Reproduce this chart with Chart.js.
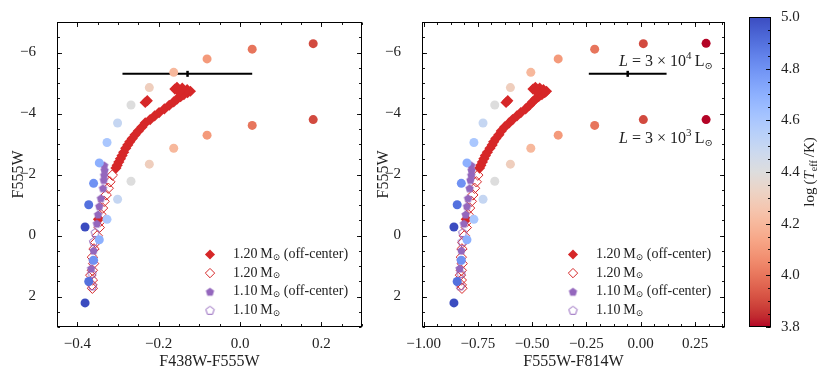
<!DOCTYPE html>
<html>
<head>
<meta charset="utf-8">
<script src="https://cdn.jsdelivr.net/npm/chart.js@4.4.1/dist/chart.umd.min.js"></script>
<style>
  body { margin: 0; background: #fff; }
  #wrap { position: relative; width: 831px; height: 380px; }
  .box { position: absolute; top: 0; }
</style>
</head>
<body>
<div id="wrap">
  <div class="box" style="left:0"><canvas id="left" width="370" height="380" style="width:370px;height:380px"></canvas></div>
  <div class="box" style="left:370px"><canvas id="right" width="365" height="380" style="width:365px;height:380px"></canvas></div>
  <div class="box" style="left:735px"><canvas id="cbar" width="96" height="380" style="width:96px;height:380px"></canvas></div>
</div>
<script>
// constant-luminosity grid, one point per log Teff
const logTeff = [3.8, 3.9, 4.0, 4.1, 4.2, 4.3, 4.4, 4.5, 4.6, 4.7, 4.8, 4.9, 5.0];
const gridBV = [null, 0.180, 0.030, -0.081, -0.163, -0.223, -0.268, -0.301, -0.327, -0.346, -0.360, -0.372, -0.381];
const gridVI = [0.301, 0.012, -0.212, -0.380, -0.506, -0.600, -0.672, -0.726, -0.768, -0.800, -0.826, -0.845, -0.860];
const gridMag4 = [-6.30, -6.29, -6.11, -5.79, -5.35, -4.85, -4.28, -3.69, -3.05, -2.38, -1.71, -1.01, -0.28]; // L = 3e4
const gridMag3 = [-3.80, -3.80, -3.61, -3.29, -2.86, -2.34, -1.78, -1.19, -0.53, 0.14, 0.81, 1.51, 2.21]; // L = 3e3

// 1.20 Msun, off-center
const off120Mag = [-0.53, -2.21, -2.30, -2.41, -2.52, -2.62, -2.73, -2.86, -2.97, -3.07, -3.18, -3.30, -3.43, -3.56, -3.69, -3.80, -3.92, -4.03, -4.15, -4.27, -4.38, -4.47, -4.55, -4.62, -4.68, -4.73, -4.78, -4.83, -4.86, -4.80, -4.72, -4.42, -4.36];
const off120BV = [-0.348, -0.305, -0.302, -0.298, -0.294, -0.290, -0.286, -0.281, -0.276, -0.271, -0.265, -0.258, -0.250, -0.241, -0.233, -0.221, -0.210, -0.199, -0.186, -0.174, -0.163, -0.155, -0.146, -0.138, -0.129, -0.122, -0.130, -0.142, -0.155, -0.160, -0.150, -0.228, -0.233];
const off120VI = [-0.803, -0.742, -0.736, -0.729, -0.722, -0.715, -0.706, -0.694, -0.684, -0.677, -0.667, -0.653, -0.642, -0.626, -0.606, -0.590, -0.570, -0.552, -0.530, -0.512, -0.498, -0.485, -0.470, -0.455, -0.442, -0.434, -0.448, -0.465, -0.485, -0.496, -0.480, -0.612, -0.620];

// 1.20 Msun
const m120Mag = [-1.98, -1.76, -1.55, -1.33, -1.12, -0.90, -0.69, -0.47, -0.26, 0.01, 0.23, 0.44, 0.71, 0.92, 1.14, 1.30, 1.46, 1.62, 1.73];
const m120BV = [-0.314, -0.320, -0.324, -0.329, -0.334, -0.338, -0.342, -0.343, -0.346, -0.351, -0.355, -0.359, -0.363, -0.360, -0.363, -0.367, -0.363, -0.364, -0.363];
const m120VI = [-0.750, -0.757, -0.765, -0.773, -0.780, -0.788, -0.795, -0.798, -0.803, -0.812, -0.819, -0.823, -0.826, -0.822, -0.826, -0.830, -0.826, -0.826, -0.823];

// 1.10 Msun, off-center
const off110Mag = [-2.30, -2.14, -1.98, -1.82, -1.55, -1.22, -0.96, -0.69, -0.39, 0.49, 0.81, 1.08];
const off110BV = [-0.334, -0.333, -0.334, -0.335, -0.337, -0.342, -0.346, -0.349, -0.352, -0.360, -0.363, -0.366];
const off110VI = [-0.780, -0.779, -0.780, -0.784, -0.788, -0.795, -0.800, -0.806, -0.814, -0.826, -0.830, -0.834];

// 1.10 Msun
const m110Mag = [-0.10, 0.20, 1.24, 1.65];
const m110BV = [-0.356, -0.360, -0.364, -0.363];
const m110VI = [-0.819, -0.822, -0.828, -0.831];

// error bars (F438W-F555W, F555W-F814W)
const errMid = [-0.129, -0.060];
const errLo = [-0.289, -0.239];
const errHi = [0.030, 0.119];
const errMag = -5.30;

// luminosity labels (right panel)
const noteExp = ['4', '3'];
const noteMag = [-5.56, -3.02];
const noteX = 0.332;

const magTicks = [-6, -4, -2, 0, 2];
const bvTicks = [-0.4, -0.2, 0.0, 0.2];
const viTicks = [-1.0, -0.75, -0.5, -0.25, 0.0, 0.25];
const teffTicks = [3.8, 4.0, 4.2, 4.4, 4.6, 4.8, 5.0];

const legendMass = ['1.20', '1.20', '1.10', '1.10'];
const legendNote = [' (off-center)', '', ' (off-center)', ''];

const RED = '#d62728';
const PURPLE = '#9467bd';
const SERIF = '"Liberation Serif", "DejaVu Serif", serif';
const SUN = '"DejaVu Serif", "DejaVu Sans", serif';

Chart.defaults.font.family = SERIF;
Chart.defaults.color = '#222';

// matplotlib coolwarm, reversed so that cool stars are red
const coolwarm = [[59,76,192],[68,90,204],[77,104,215],[87,117,225],[98,130,234],[108,142,241],[119,154,247],[130,165,251],[141,176,254],[152,185,255],[163,194,255],[174,201,253],[184,208,249],[194,213,244],[204,217,238],[213,219,230],[221,221,221],[229,216,209],[236,211,197],[241,204,185],[245,196,173],[247,187,160],[247,177,148],[247,166,135],[244,154,123],[241,141,111],[236,127,99],[229,112,88],[222,96,77],[213,80,66],[203,62,56],[192,40,47],[180,4,38]];
function cmap(t) {
  t = Math.min(1, Math.max(0, t));
  const f = t * 32, i = Math.min(31, Math.floor(f)), r = f - i;
  const a = coolwarm[i], b = coolwarm[i + 1];
  return 'rgb(' + a.map((c, k) => Math.round(c + (b[k] - c) * r)).join(',') + ')';
}
const tMin = teffTicks[0], tMax = teffTicks[teffTicks.length - 1];
const teffColor = v => cmap(1 - (v - tMin) / (tMax - tMin));

function pentagon(fill) {
  const c = document.createElement('canvas');
  c.width = c.height = 11;
  const g = c.getContext('2d');
  g.beginPath();
  for (let k = 0; k < 5; k++) {
    const a = -Math.PI / 2 + k * 2 * Math.PI / 5;
    const px = 5.5 + 4.4 * Math.cos(a), py = 5.9 + 4.4 * Math.sin(a);
    if (k) g.lineTo(px, py); else g.moveTo(px, py);
  }
  g.closePath();
  if (fill) { g.fillStyle = PURPLE; g.fill(); }
  else { g.strokeStyle = PURPLE; g.lineWidth = 1; g.stroke(); }
  return c;
}
const pentFull = pentagon(true);
const pentOpen = pentagon(false);

// marker styles for the four tracks (legend order)
const trackStyle = [
  { pointStyle: 'rectRot', radius: 5.6, fill: RED, border: RED, bw: 0 },
  { pointStyle: 'rectRot', radius: 5.2, fill: 'rgba(0,0,0,0)', border: RED, bw: 1 },
  { pointStyle: pentFull, radius: 4, fill: PURPLE, border: PURPLE, bw: 0 },
  { pointStyle: pentOpen, radius: 4, fill: 'rgba(0,0,0,0)', border: PURPLE, bw: 0 }
];

const fmt = d => v => Number(v).toFixed(d).replace('-', '\u2212');

function richText(ctx, parts, x, y, align) {
  let w = 0;
  parts.forEach(p => { ctx.font = p[1]; w += ctx.measureText(p[0]).width; });
  let cx = align === 'right' ? x - w : align === 'center' ? x - w / 2 : x;
  parts.forEach(p => {
    ctx.font = p[1];
    ctx.fillText(p[0], cx, y + (p[2] || 0));
    cx += ctx.measureText(p[0]).width;
  });
}

// axes box with inward major/minor ticks
const framePlugin = {
  id: 'frame',
  afterDatasetsDraw(chart, args, o) {
    const { ctx, chartArea: a, scales } = chart;
    const L = Math.round(a.left) + 0.5, R = Math.round(a.right) - 0.5;
    const T = Math.round(a.top) + 0.5, B = Math.round(a.bottom) - 0.5;
    ctx.save();
    ctx.strokeStyle = '#000';
    ctx.lineWidth = 1;
    ctx.strokeRect(L, T, R - L, B - T);
    ctx.lineWidth = 0.9;
    ctx.beginPath();
    ['x', 'y'].forEach(axis => {
      const s = scales[axis], c = o[axis];
      if (!s || !c) return;
      const marks = [];
      for (let k = Math.ceil(s.min / c.minor - 1e-6); k * c.minor <= s.max + 1e-6; k++) marks.push([k * c.minor, 2.5]);
      s.ticks.forEach(t => marks.push([t.value, 4.5]));
      marks.forEach(([v, len]) => {
        const p = Math.round(s.getPixelForValue(v)) + 0.5;
        c.sides.forEach(side => {
          if (side === 'bottom') { ctx.moveTo(p, B); ctx.lineTo(p, B - len); }
          if (side === 'top') { ctx.moveTo(p, T); ctx.lineTo(p, T + len); }
          if (side === 'left') { ctx.moveTo(L, p); ctx.lineTo(L + len, p); }
          if (side === 'right') { ctx.moveTo(R, p); ctx.lineTo(R - len, p); }
        });
      });
    });
    ctx.stroke();
    ctx.restore();
  }
};

// legend in the lower right corner
const keyPlugin = {
  id: 'key',
  afterDraw(chart) {
    const { ctx, chartArea: a } = chart;
    ctx.save();
    ctx.textBaseline = 'middle';
    legendMass.forEach((m, i) => {
      const y = a.bottom - 72.5 + i * 18.6;
      const st = trackStyle[i];
      ctx.fillStyle = st.fill;
      ctx.strokeStyle = st.border;
      ctx.lineWidth = st.bw;
      Chart.helpers.drawPoint(ctx, { pointStyle: st.pointStyle, radius: st.radius * 0.9, rotation: 0, borderWidth: st.bw }, a.right - 152, y);
      ctx.fillStyle = '#222';
      richText(ctx, [[m + '\u2009M', '14px ' + SERIF], ['\u2299', '9px ' + SUN, 3], [legendNote[i], '14px ' + SERIF]], a.right - 129, y, 'left');
    });
    ctx.restore();
  }
};

const notePlugin = {
  id: 'notes',
  afterDraw(chart, args, o) {
    if (!o.show) return;
    const { ctx, scales } = chart;
    ctx.save();
    ctx.fillStyle = '#222';
    ctx.textBaseline = 'alphabetic';
    noteExp.forEach((e, i) => {
      const x = scales.x.getPixelForValue(noteX), y = scales.y.getPixelForValue(noteMag[i]);
      richText(ctx, [['L', 'italic 16px ' + SERIF], [' = 3 \u00d7 10', '16px ' + SERIF], [e, '11px ' + SERIF, -7], ['\u2009L', '16px ' + SERIF], ['\u2299', '10px ' + SUN, 3]], x, y, 'right');
    });
    ctx.restore();
  }
};

function panel(id, xs, gx, xMin, xMax, xTicks, xDec, xMinor, xTitle, iErr, yW, padR, yTitlePad, notes) {
  const pts = (xv, mag) => xv.map((x, i) => ({ x: x, y: mag[i] }));
  const grid = mag => logTeff.map((t, i) => ({ x: gx[i], y: mag[i], t: t })).filter(p => p.x !== null);
  const track = (k, data) => ({
    data: data,
    pointStyle: trackStyle[k].pointStyle,
    pointRadius: trackStyle[k].radius,
    pointBackgroundColor: trackStyle[k].fill,
    pointBorderColor: trackStyle[k].border,
    pointBorderWidth: trackStyle[k].bw
  });
  const dot = mag => ({
    data: grid(mag),
    pointRadius: 4.5,
    pointBorderWidth: 0,
    pointBackgroundColor: c => teffColor(c.raw ? c.raw.t : 4.4)
  });
  return new Chart(document.getElementById(id), {
    type: 'scatter',
    data: {
      datasets: [
        dot(gridMag4),
        dot(gridMag3),
        { data: [{ x: errMid[iErr], y: errMag }], pointStyle: 'line', rotation: 90, pointRadius: 3, pointBorderWidth: 2.5, pointBorderColor: '#000' },
        { type: 'line', data: [{ x: errLo[iErr], y: errMag }, { x: errHi[iErr], y: errMag }], borderColor: '#000', borderWidth: 2, pointRadius: 0 },
        track(3, pts(xs[3], m110Mag)),
        track(2, pts(xs[2], off110Mag)),
        track(1, pts(xs[1], m120Mag)),
        track(0, pts(xs[0], off120Mag))
      ]
    },
    options: {
      responsive: false,
      animation: false,
      events: [],
      layout: { padding: { top: 17, right: padR, left: 0, bottom: 0 } },
      plugins: {
        legend: { display: false },
        tooltip: { enabled: false },
        frame: { x: { minor: xMinor, sides: ['bottom', 'top'] }, y: { minor: 0.5, sides: ['left', 'right'] } },
        notes: { show: notes }
      },
      scales: {
        x: {
          type: 'linear', min: xMin, max: xMax,
          grid: { display: false }, border: { display: false },
          afterBuildTicks: s => { s.ticks = xTicks.map(v => ({ value: v })); },
          afterFit: s => { s.height = 53; },
          ticks: { padding: 0, font: { size: 15 }, callback: fmt(xDec) },
          title: { display: true, text: xTitle, color: '#222', font: { size: 16 }, padding: { top: 0, bottom: 9 } }
        },
        y: {
          type: 'linear', min: -7, max: 3, reverse: true,
          grid: { display: false }, border: { display: false },
          afterBuildTicks: s => { s.ticks = magTicks.map(v => ({ value: v })); },
          afterFit: s => { s.width = yW; },
          ticks: { padding: 13, font: { size: 15 }, callback: fmt(0) },
          title: { display: true, text: 'F555W', color: '#222', font: { size: 16 }, padding: { top: yTitlePad, bottom: 0 } }
        }
      }
    },
    plugins: [framePlugin, keyPlugin, notePlugin]
  });
}

panel('left', [off120BV, m120BV, off110BV, m110BV], gridBV, -0.45, 0.30, bvTicks, 1, 0.05, 'F438W-F555W', 0, 57, 8, 9, false);
panel('right', [off120VI, m120VI, off110VI, m110VI], gridVI, -1.007, 0.388, viTicks, 2, 0.0625, 'F555W-F814W', 1, 52, 10, 4, true);

// colorbar: one floating bar spanning the log Teff range
const cbTitle = {
  id: 'cbTitle',
  afterDraw(chart) {
    const { ctx, chartArea: a } = chart;
    ctx.save();
    ctx.fillStyle = '#222';
    ctx.textBaseline = 'middle';
    ctx.translate(75, (a.top + a.bottom) / 2);
    ctx.rotate(-Math.PI / 2);
    richText(ctx, [['log\u2009(', '15px ' + SERIF], ['T', 'italic 15px ' + SERIF], ['eff', '10px ' + SERIF, 4], ['\u2009/K)', '15px ' + SERIF]], 0, 0, 'center');
    ctx.restore();
  }
};
function barGradient(chart) {
  const a = chart.chartArea;
  if (!a) return teffColor(4.4);
  const g = chart.ctx.createLinearGradient(0, a.bottom, 0, a.top);
  coolwarm.forEach((c, k) => g.addColorStop(k / 32, 'rgb(' + coolwarm[32 - k].join(',') + ')'));
  return g;
}
new Chart(document.getElementById('cbar'), {
  type: 'bar',
  data: {
    labels: ['logTeff'],
    datasets: [{ data: [[tMin, tMax]], backgroundColor: c => barGradient(c.chart), borderWidth: 0, barPercentage: 1, categoryPercentage: 1 }]
  },
  options: {
    responsive: false,
    animation: false,
    events: [],
    layout: { padding: { top: 17, bottom: 53, left: 14, right: 0 } },
    plugins: {
      legend: { display: false },
      tooltip: { enabled: false },
      frame: { y: { minor: 0.05, sides: ['right'] } }
    },
    scales: {
      x: { display: false },
      y: {
        position: 'right', min: tMin, max: tMax,
        grid: { display: false }, border: { display: false },
        afterBuildTicks: s => { s.ticks = teffTicks.map(v => ({ value: v })); },
        afterFit: s => { s.width = 60; },
        ticks: { padding: 2, font: { size: 15 }, callback: fmt(1) }
      }
    }
  },
  plugins: [framePlugin, cbTitle]
});
</script>
</body>
</html>
